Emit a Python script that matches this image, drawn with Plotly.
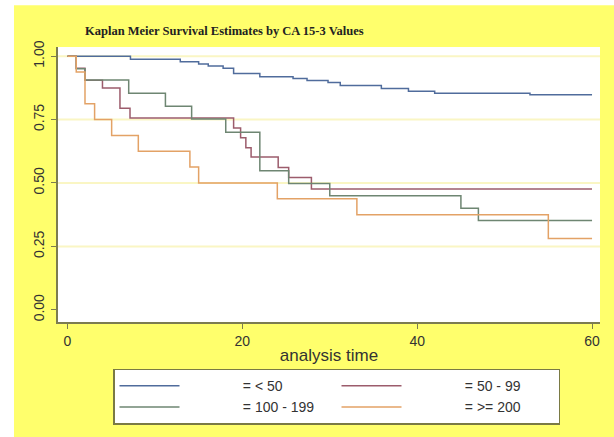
import plotly.graph_objects as go

# ---- data ----
t_lt50 = [0, 7.2, 12.9, 15.0, 16.1, 17.8, 19.0, 22.0, 25.8, 27.4, 29.8, 31.2, 35.9, 39.0, 42.0, 52.9, 60]
s_lt50 = [1.0, 0.988, 0.978, 0.969, 0.961, 0.952, 0.932, 0.919, 0.912, 0.904, 0.896, 0.884, 0.872, 0.862, 0.854, 0.848, 0.848]

t_50_99 = [0, 1.0, 2.0, 4.0, 6.0, 7.15, 19.0, 19.8, 20.4, 21.0, 24.1, 25.3, 27.9, 60]
s_50_99 = [1.0, 0.952, 0.905, 0.874, 0.795, 0.756, 0.717, 0.678, 0.639, 0.602, 0.561, 0.522, 0.476, 0.476]

t_100_199 = [0, 1.0, 2.0, 7.0, 11.2, 14.2, 18.1, 22.0, 25.3, 30.0, 45.0, 47.0, 60]
s_100_199 = [1.0, 0.95, 0.906, 0.854, 0.802, 0.752, 0.700, 0.548, 0.498, 0.450, 0.400, 0.352, 0.352]

t_ge200 = [0, 1.0, 2.0, 3.1, 5.05, 8.1, 14.0, 15.0, 24.0, 33.1, 55.0, 60]
s_ge200 = [1.0, 0.9375, 0.8125, 0.75, 0.6875, 0.625, 0.5625, 0.5, 0.4375, 0.375, 0.28125, 0.28125]

group_labels = ["= < 50", "= 50 - 99", "= 100 - 199", "= >= 200"]
y_ticks = [0, 0.25, 0.5, 0.75, 1.0]
y_tick_text = ["0.00", "0.25", "0.50", "0.75", "1.00"]
x_ticks = [0, 20, 40, 60]
grid_levels = [0.25, 0.5, 0.75, 1.0]

title_text = "Kaplan Meier Survival Estimates by CA 15-3 Values"
x_title = "analysis time"

colors = ["#506c9c", "#9c5c6c", "#6e8672", "#e3a266"]

fig = go.Figure()

# background: white strip at left/top, yellow elsewhere, white plot region
fig.add_shape(type="rect", xref="paper", yref="paper",
              x0=-0.0812, x1=1.1, y0=-0.6, y1=1.1516,
              fillcolor="#ffff6c", line_width=0, layer="below")
fig.add_shape(type="rect", xref="paper", yref="paper",
              x0=0, x1=1, y0=0, y1=1,
              fillcolor="white", line_width=0, layer="below")

for lvl in grid_levels:
    fig.add_hline(y=lvl, line_color="#faf6c4", line_width=2, layer="below")

pad = "\u00a0" * 15
series = [(t_lt50, s_lt50), (t_50_99, s_50_99), (t_100_199, s_100_199), (t_ge200, s_ge200)]
for (t, s), name, c in zip(series, group_labels, colors):
    fig.add_trace(go.Scatter(x=t, y=s, mode="lines", name=pad + name,
                             line=dict(color=c, width=1.5, shape="hv")))

axis_col = "#7c7c50"
fig.update_layout(
    width=614, height=437,
    margin=dict(l=58, r=14, t=47, b=113),
    paper_bgcolor="white", plot_bgcolor="white",
    font=dict(family="Liberation Sans, Arial, sans-serif", size=14, color="#333333"),
    title=dict(text="<b>" + title_text + "</b>", x=85/614, xanchor="left", xref="container",
               y=1 - 31/437, yanchor="middle", yref="container",
               font=dict(family="Liberation Serif, Times New Roman, serif", size=12.5, color="#222222")),
    showlegend=True,
    legend=dict(orientation="h", x=(113-58)/542, xanchor="left", y=(324-371)/277, yanchor="top",
                bgcolor="white", bordercolor="#7a7a44", borderwidth=1.5,
                itemwidth=60, entrywidth=147, entrywidthmode="pixels",
                font=dict(size=14, color="#333333")),
    xaxis=dict(range=[-1.087, 60.91], tickvals=x_ticks, showgrid=False, zeroline=False,
               showline=True, linecolor=axis_col, linewidth=1.5,
               ticks="outside", ticklen=5, tickcolor=axis_col, ticklabelstandoff=0,
               title=dict(text=x_title, standoff=2)),
    yaxis=dict(range=[-0.048, 1.036], tickvals=y_ticks, ticktext=y_tick_text, tickangle=-90,
               showgrid=False, zeroline=False,
               showline=True, linecolor=axis_col, linewidth=1.5,
               ticks="outside", ticklen=5, tickcolor=axis_col, ticklabelstandoff=2),
)

fig.write_html("out.html", config={"displayModeBar": False},
               post_script="document.body.style.margin='0px';")
